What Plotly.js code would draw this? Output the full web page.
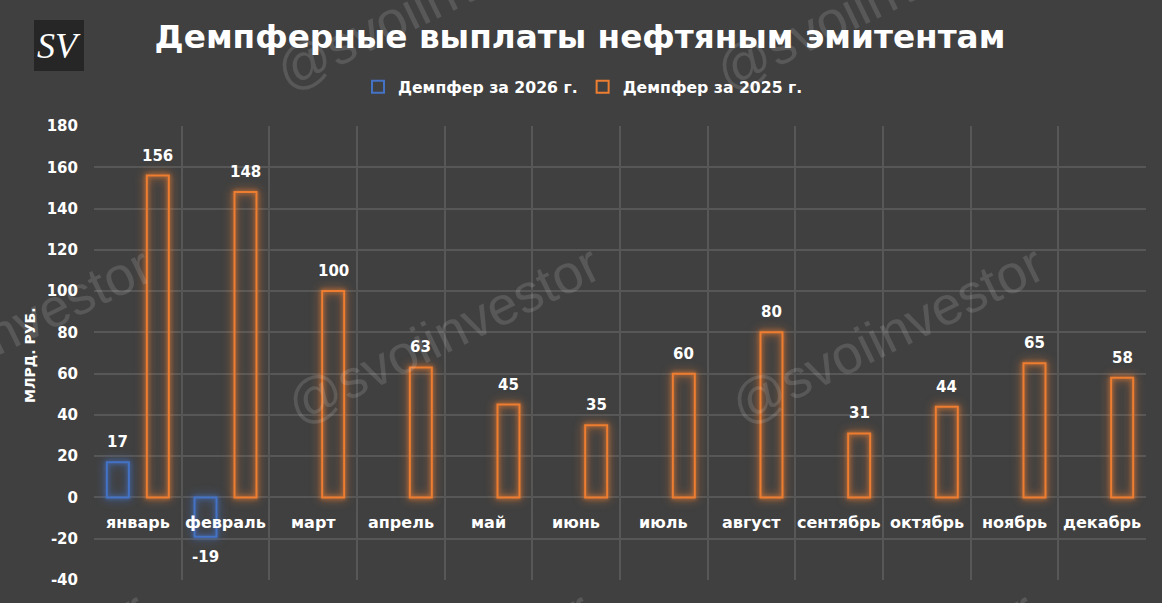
<!DOCTYPE html>
<html><head><meta charset="utf-8">
<script src="https://cdn.plot.ly/plotly-3.0.1.min.js"></script>
<style>
html,body{margin:0;padding:0;background:#404040;}
#chart{width:1162px;height:603px;}
.barlayer .trace:nth-child(1) .point path{filter:drop-shadow(0 0 2px rgba(68,114,196,0.95)) drop-shadow(0 0 5px rgba(68,114,196,0.75));}
.barlayer .trace:nth-child(2) .point path{filter:drop-shadow(0 0 2px rgba(237,125,49,0.95)) drop-shadow(0 0 5px rgba(237,125,49,0.75));}
</style></head>
<body><div id="chart"></div>
<script>
const categories = ["январь","февраль","март","апрель","май","июнь","июль","август","сентябрь","октябрь","ноябрь","декабрь"];
const damper2026 = [17,-19,null,null,null,null,null,null,null,null,null,null];
const damper2025 = [156,148,100,63,45,35,60,80,31,44,65,58];
const seriesNames = ["Демпфер за 2026 г.","Демпфер за 2025 г."];
const yTicks = [-40,-20,0,20,40,60,80,100,120,140,160,180];
const titleText = "Демпферные выплаты нефтяным эмитентам";
const yTitle = "МЛРД. РУБ.";
const watermark = "@svoiinvestor";
const logoText = "SV";

const BLUE = "#4472C4", ORANGE = "#ED7D31";
const FONT = "DejaVu Sans";
const L=94, R=16, T=126, B=23, W=1162, H=603;
const pw = W-L-R, ph = H-T-B;
const px = x => (x-L)/pw, py = y => (H-B-y)/ph;

const traces = [
  {type:"bar", name:seriesNames[0], x:categories, y:damper2026,
   marker:{color:"rgba(0,0,0,0)", line:{color:BLUE, width:2}}, hoverinfo:"skip"},
  {type:"bar", name:seriesNames[1], x:categories, y:damper2025,
   marker:{color:"rgba(0,0,0,0)", line:{color:ORANGE, width:2}}, hoverinfo:"skip"}
];

const ann = [];
// data labels
[[damper2026,-20],[damper2025,20]].forEach(([vals,dx])=>{
  vals.forEach((v,i)=>{
    if(v===null) return;
    ann.push({x:categories[i], y:v, xref:"x", yref:"y", text:String(v), showarrow:false,
      xshift:dx, yshift: v>=0 ? 9 : -9, xanchor:"center", yanchor: v>=0 ? "bottom":"top",
      font:{family:FONT, size:15, color:"#ffffff", weight:700}});
  });
});
// category labels
categories.forEach(c=>{
  ann.push({x:c, y:0, xref:"x", yref:"y", text:c, showarrow:false, xanchor:"center", yanchor:"middle", yshift:-25,
    font:{family:FONT, size:16, color:"#ffffff", weight:700}});
});
// y title
ann.push({x:px(30), y:py(355), xref:"paper", yref:"paper", text:yTitle, textangle:-90, showarrow:false,
  xanchor:"center", yanchor:"middle",
  font:{family:FONT, size:14, color:"#ffffff", weight:700}});
// logo text
ann.push({x:px(59), y:py(46), xref:"paper", yref:"paper", text:logoText, showarrow:false,
  xanchor:"center", yanchor:"middle",
  font:{family:"Liberation Serif", size:36, color:"#ffffff", style:"italic"}});
// watermarks
[[-5,336],[443,334],[887,334],[432,0],[872,0],[-11,680],[434,680],[878,680]].forEach(([cx,cy])=>{
  ann.push({x:px(cx), y:py(cy), xref:"paper", yref:"paper", text:watermark, textangle:-26, showarrow:false,
    xanchor:"center", yanchor:"middle",
    font:{family:"Liberation Sans", size:54, color:"rgba(255,255,255,0.13)"}});
});

const layout = {
  width:W, height:H,
  paper_bgcolor:"#404040", plot_bgcolor:"#404040",
  margin:{l:L, r:R, t:T, b:B, pad:0},
  title:{text:titleText, x:580/W, xref:"container", xanchor:"center", y:1-37/H, yref:"container", yanchor:"middle",
    font:{family:FONT, size:32.7, color:"#ffffff", weight:700}},
  barmode:"group", bargap:0.088, bargroupgap:0.45,
  showlegend:true,
  legend:{orientation:"h", x:px(583), xanchor:"center", y:py(87), yanchor:"middle",
    font:{family:FONT, size:15.7, color:"#ffffff", weight:700}, bgcolor:"rgba(0,0,0,0)", itemclick:false},
  xaxis:{type:"category", tickson:"boundaries", showgrid:true, gridcolor:"#575757", gridwidth:2,
    showticklabels:false, ticks:"", zeroline:false, showline:false, fixedrange:true},
  yaxis:{range:[-40,180], tickvals:yTicks, ticktext:yTicks.map(String), showgrid:true, gridcolor:"#575757", gridwidth:2,
    zeroline:true, zerolinecolor:"#575757", zerolinewidth:2, ticks:"outside", ticklen:12, tickcolor:"rgba(0,0,0,0)",
    tickfont:{family:FONT, size:15, color:"#ffffff", weight:700}, showline:false, fixedrange:true},
  shapes:[
    {type:"rect", xref:"paper", yref:"y", x0:0, x1:1.005, y0:-41, y1:-1, layer:"between",
     fillcolor:"rgba(64,64,64,0.55)", line:{width:0}},
    {type:"rect", xref:"paper", yref:"paper", x0:px(34), x1:px(84), y0:py(71), y1:py(20),
     fillcolor:"#262626", line:{width:0}, layer:"above"}
  ],
  annotations:ann
};
Plotly.newPlot("chart", traces, layout, {displayModeBar:false, staticPlot:true});
</script></body></html>
